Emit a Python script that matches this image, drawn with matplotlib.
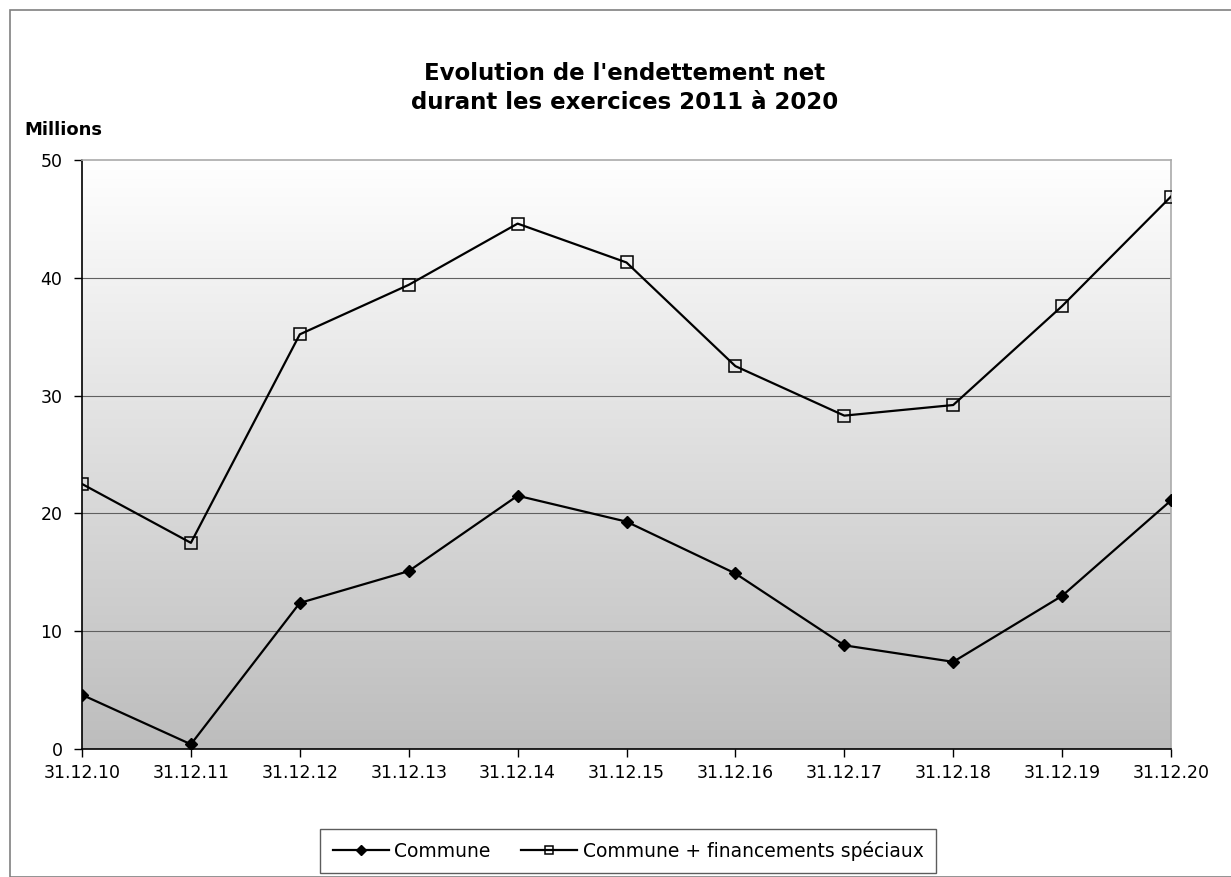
import matplotlib
matplotlib.use('Agg')
import matplotlib.pyplot as plt
from matplotlib.patches import Rectangle
import numpy as np

# Données (millions)
dates = ['31.12.10', '31.12.11', '31.12.12', '31.12.13', '31.12.14', '31.12.15',
         '31.12.16', '31.12.17', '31.12.18', '31.12.19', '31.12.20']
commune = [4.6, 0.4, 12.4, 15.1, 21.5, 19.3, 14.9, 8.8, 7.4, 13.0, 21.1]
commune_fs = [22.5, 17.5, 35.2, 39.4, 44.6, 41.3, 32.5, 28.3, 29.2, 37.6, 46.9]
yticks = [0, 10, 20, 30, 40, 50]

fig = plt.figure(figsize=(12.31, 8.77), dpi=100)
fig.patch.set_facecolor('white')

# cadre extérieur
fig.patches.append(Rectangle((10 / 1231, 0.0), 1.2, 1 - 10 / 877, transform=fig.transFigure,
                             fill=False, edgecolor='#808080', linewidth=1.2))

ax = fig.add_axes([82 / 1231, 1 - 749 / 877, (1171 - 82) / 1231, (749 - 160) / 877])
x = np.arange(len(dates))

# fond dégradé blanc -> gris
grad = np.linspace(0, 1, 256).reshape(-1, 1)
ax.imshow(grad, extent=[0, len(dates) - 1, 0, 50], aspect='auto', origin='upper',
          cmap=matplotlib.colors.LinearSegmentedColormap.from_list('g', ['#ffffff', '#bdbdbd']),
          zorder=0)

for v in yticks[1:-1]:
    ax.axhline(v, color='#606060', linewidth=0.8, zorder=1)

ax.plot(x, commune, color='black', linewidth=1.6, marker='D', markersize=6,
        markerfacecolor='black', label='Commune', zorder=3)
ax.plot(x, commune_fs, color='black', linewidth=1.6, marker='s', markersize=8,
        markerfacecolor='none', markeredgewidth=1.1, label='Commune + financements spéciaux', zorder=3)

ax.set_xlim(0, len(dates) - 1)
ax.set_ylim(0, 50)
ax.set_xticks(x)
ax.set_xticklabels(dates)
ax.set_yticks(yticks)
ax.tick_params(axis='both', direction='out', length=6, width=1, colors='black', labelsize=12.5)
ax.tick_params(axis='y', pad=8)
ax.tick_params(axis='x', pad=5)

ax.spines['left'].set_color('black')
ax.spines['bottom'].set_color('black')
ax.spines['top'].set_color('#aaaaaa')
ax.spines['right'].set_color('#aaaaaa')
for s in ax.spines.values():
    s.set_linewidth(1.2)

fig.text(625 / 1231, 1 - 88 / 877, "Evolution de l'endettement net\ndurant les exercices 2011 à 2020",
         ha='center', va='center', fontsize=16.5, fontweight='bold', linespacing=1.3)
fig.text(24 / 1231, 1 - 130 / 877, 'Millions', ha='left', va='center', fontsize=13,
         fontweight='bold')

leg = fig.legend(loc='center', bbox_to_anchor=(628 / 1231, 1 - 851 / 877), ncol=2,
                 frameon=True, fancybox=False, edgecolor='#333333', fontsize=13.5,
                 handlelength=3.0, handletextpad=0.3, columnspacing=1.6, borderpad=0.65,
                 markerscale=0.8)
leg.get_frame().set_linewidth(1.0)

fig.savefig('out.png', dpi=100)
